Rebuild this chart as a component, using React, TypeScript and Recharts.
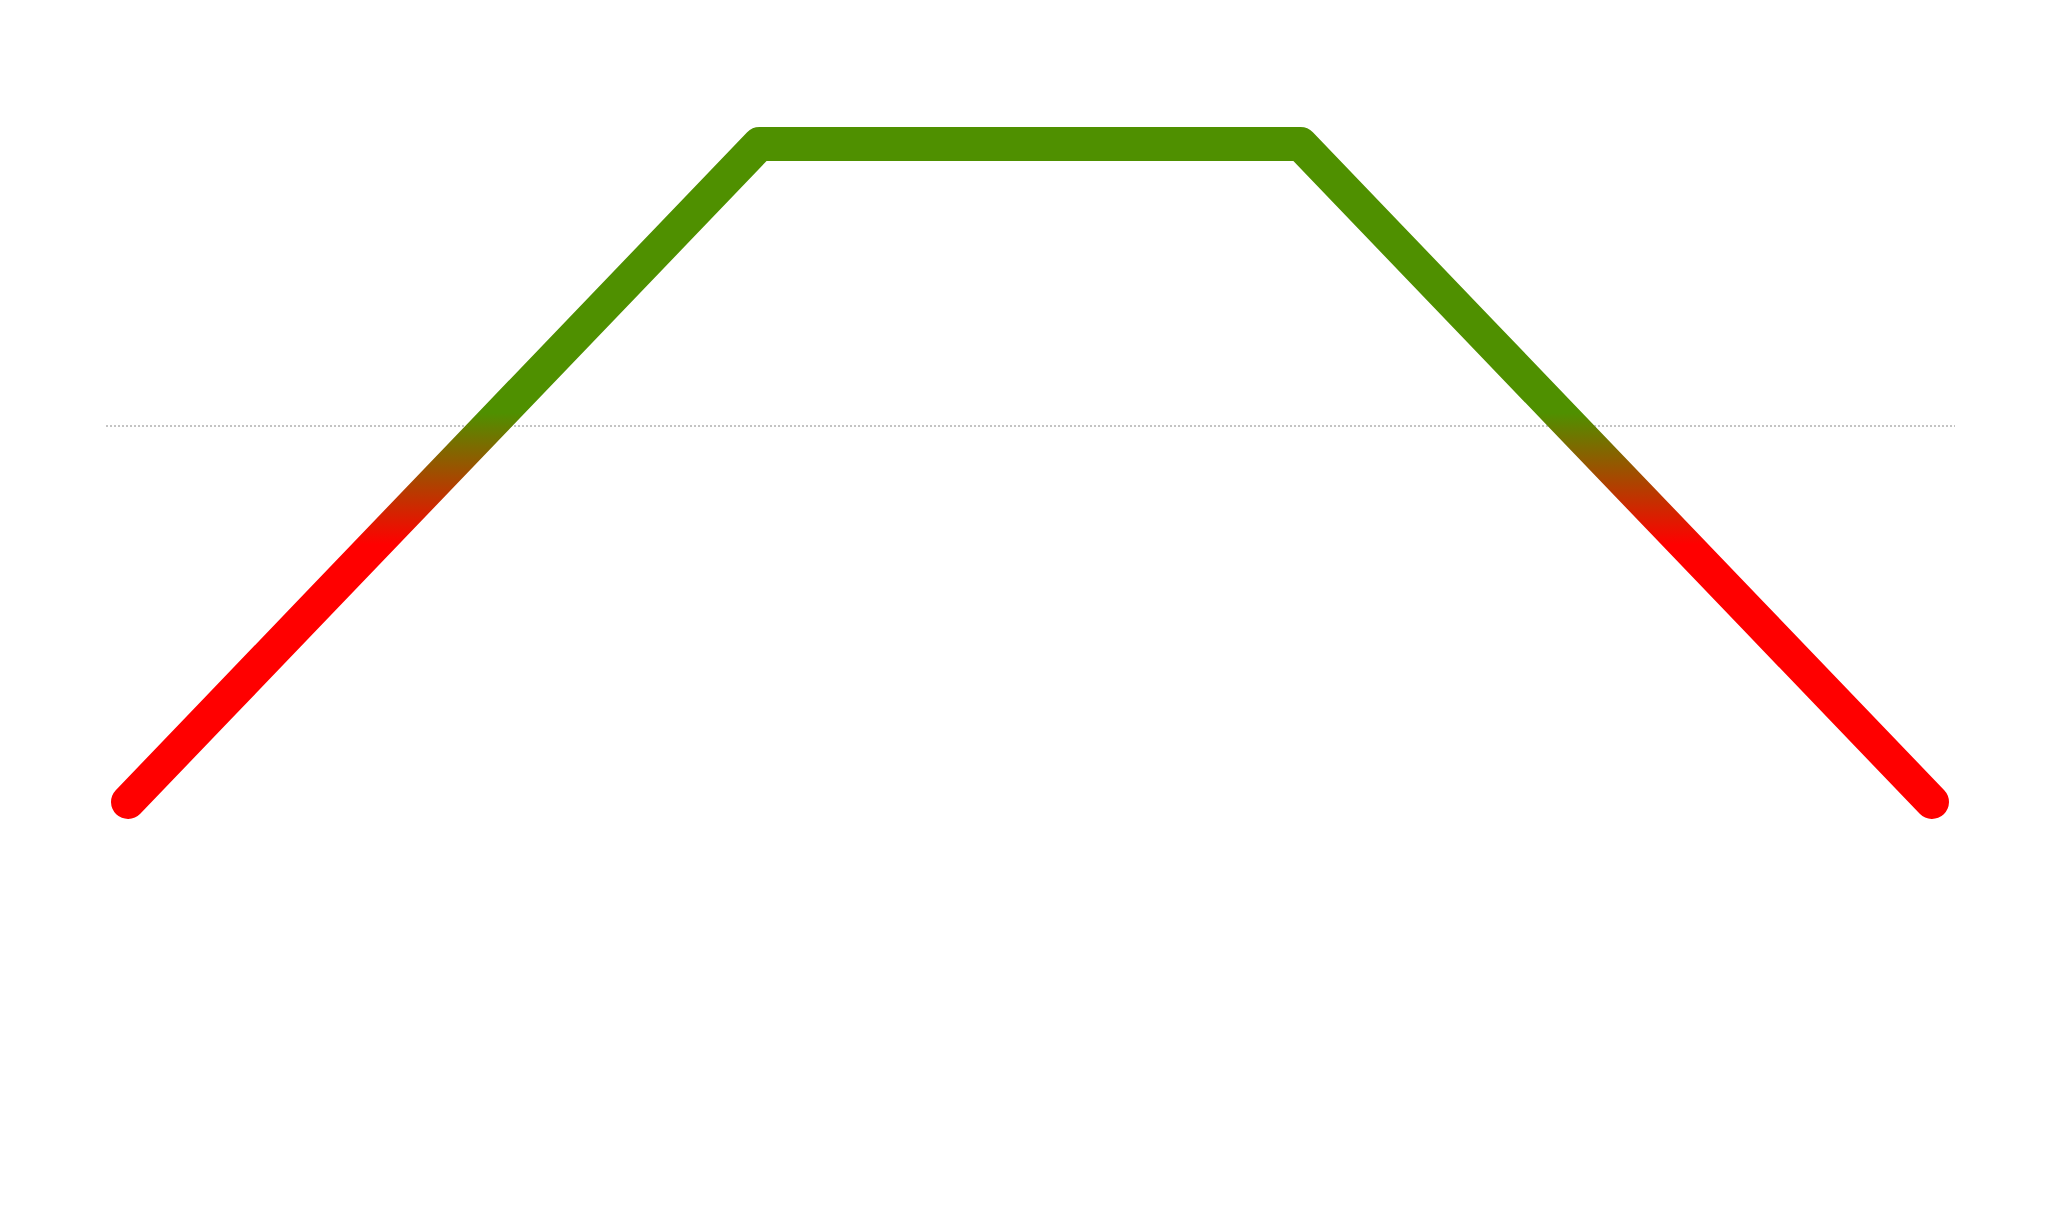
import React from 'react'
import { LineChart, Line, XAxis, YAxis, ReferenceLine } from 'recharts'

// 21 evenly spaced points: ramp up, flat top, ramp down
const steps = [
  'p0', 'p1', 'p2', 'p3', 'p4', 'p5', 'p6', 'p7', 'p8', 'p9', 'p10',
  'p11', 'p12', 'p13', 'p14', 'p15', 'p16', 'p17', 'p18', 'p19', 'p20'
]
const values = [30, 40, 50, 60, 70, 80, 90, 100, 100, 100, 100, 100, 100, 100, 90, 80, 70, 60, 50, 40, 30]
const threshold = 70

const GREEN = '#4f9000'
const RED = '#ff0000'

const data = steps.map((name, i) => ({ name, value: values[i] }))

const maxV = Math.max(...values)
const minV = Math.min(...values)
const off = (maxV - threshold) / (maxV - minV)

export default function App() {
  return (
    <div style={{ position: 'absolute', left: 0, top: 0, background: '#fff' }}>
      <LineChart
        width={2048}
        height={1217}
        data={data}
        margin={{ top: 144, right: 93, bottom: 133, left: 106 }}
      >
        <defs>
          <linearGradient id="splitColor" x1="0" y1="0" x2="0" y2="1">
            <stop offset={off - 0.02} stopColor={GREEN} stopOpacity={1} />
            <stop offset={off + 0.18} stopColor={RED} stopOpacity={1} />
          </linearGradient>
        </defs>
        <XAxis dataKey="name" hide padding={{ left: 22, right: 23 }} />
        <YAxis hide domain={[0, 100]} />
        <ReferenceLine y={threshold} stroke="#888" strokeDasharray="2 2" strokeWidth={1} />
        <Line
          type="linear"
          dataKey="value"
          stroke="url(#splitColor)"
          strokeWidth={34}
          strokeLinecap="round"
          strokeLinejoin="round"
          dot={false}
          activeDot={false}
          isAnimationActive={false}
        />
      </LineChart>
    </div>
  )
}
